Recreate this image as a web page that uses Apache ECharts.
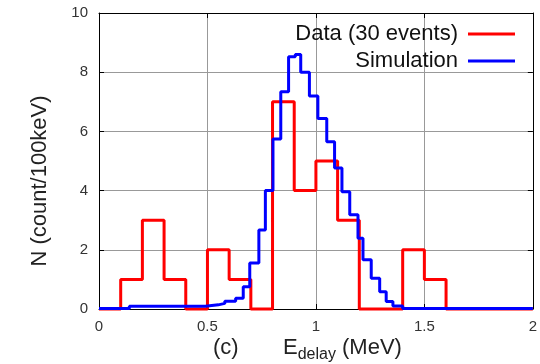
<!DOCTYPE html>
<html><head><meta charset="utf-8">
<script src="https://cdn.jsdelivr.net/npm/echarts@6/dist/echarts.min.js"></script>
<style>html,body{margin:0;padding:0;background:#fff}#c{width:540px;height:364px}</style>
</head><body><div id="c"></div>
<script>
// Data histogram (bin width 0.1 MeV): bin edges and counts
const dataEdges = [0.0,0.1,0.2,0.3,0.4,0.5,0.6,0.7,0.8,0.9,1.0,1.1,1.2,1.3,1.4,1.5,1.6,1.7,1.8,1.9,2.0];
const dataCounts = [0,1,3,1,0,2,1,0,7,4,5,3,0,0,2,1,0,0,0,0];
// Simulation histogram: bin edges and values
const simEdges = [0,0.14,0.49,0.55,0.58,0.63,0.665,0.695,0.737,0.767,0.802,0.838,0.874,0.905,0.93,0.97,1.009,1.05,1.086,1.12,1.156,1.194,1.217,1.255,1.294,1.324,1.355,1.40,2.0];
const simValues = [0.02,0.09,0.14,0.19,0.26,0.36,0.75,1.55,2.67,4.0,5.74,7.34,8.52,8.6,8.0,7.2,6.44,5.65,4.76,3.96,3.18,2.39,1.66,1.04,0.58,0.25,0.1,0.02];
// Axis ticks
const xTicks = [0, 0.5, 1, 1.5, 2];
const yTicks = [0, 2, 4, 6, 8, 10];
const seriesNames = ['Data (30 events)', 'Simulation'];

function stepPoints(edges, vals) {
  const pts = vals.map((v, i) => [edges[i], v]);
  pts.push([edges[edges.length - 1], vals[vals.length - 1]]);
  return pts;
}
const FONT = 'Liberation Sans, Arial, sans-serif';
const chart = echarts.init(document.getElementById('c'), null, {renderer: 'canvas'});
const xBase = {
  type: 'value', min: xTicks[0], max: xTicks[xTicks.length - 1], interval: 0.5,
  axisLine: {show: true, onZero: false, lineStyle: {color: '#000', width: 1}},
  axisTick: {show: true, inside: true, length: 5, lineStyle: {color: '#000'}}
};
const yBase = {
  type: 'value', min: yTicks[0], max: yTicks[yTicks.length - 1], interval: 2,
  axisLine: {show: true, onZero: false, lineStyle: {color: '#000', width: 1}},
  axisTick: {show: true, inside: true, length: 5, lineStyle: {color: '#000'}}
};
chart.setOption({
  animation: false,
  backgroundColor: '#fff',
  grid: {left: 99, right: 4, top: 13, bottom: 55},
  xAxis: [
    Object.assign({}, xBase, {
      position: 'bottom',
      axisLabel: {color: '#333', fontSize: 15, fontFamily: FONT, margin: 10},
      splitLine: {show: true, lineStyle: {color: '#999', width: 1}}
    }),
    Object.assign({}, xBase, {position: 'top', axisLabel: {show: false}, splitLine: {show: false}})
  ],
  yAxis: [
    Object.assign({}, yBase, {
      position: 'left',
      axisLabel: {color: '#333', fontSize: 15, fontFamily: FONT, margin: 11},
      splitLine: {show: true, lineStyle: {color: '#999', width: 1}}
    }),
    Object.assign({}, yBase, {position: 'right', axisLabel: {show: false}, splitLine: {show: false}})
  ],
  legend: {
    data: seriesNames,
    orient: 'vertical', align: 'right', right: 25, top: 23,
    icon: 'rect', itemWidth: 47, itemHeight: 3, itemGap: 5,
    padding: 0,
    textStyle: {fontSize: 22, color: '#111', fontFamily: FONT, padding: [0, 5, 0, 0]}
  },
  series: [
    {
      name: seriesNames[0], type: 'line', step: 'end', symbol: 'none', clip: false,
      data: stepPoints(dataEdges, dataCounts),
      color: '#ff0000', lineStyle: {color: '#ff0000', width: 3}, z: 2
    },
    {
      name: seriesNames[1], type: 'line', step: 'end', symbol: 'none', clip: false,
      data: stepPoints(simEdges, simValues),
      color: '#0000ff', lineStyle: {color: '#0000ff', width: 3}, z: 3
    }
  ],
  graphic: [
    {
      type: 'text', x: 40, y: 181, rotation: Math.PI / 2,
      style: {text: 'N (count/100keV)', fontSize: 22, fontFamily: FONT, fill: '#222', align: 'center', verticalAlign: 'middle'}
    },
    {
      type: 'text', x: 213, y: 348,
      style: {text: '(c)', fontSize: 22, fontFamily: FONT, fill: '#222', align: 'left', verticalAlign: 'middle'}
    },
    {
      type: 'text', x: 283, y: 337,
      style: {
        text: '{a|E}{s|delay}{a| (MeV)}', align: 'left', verticalAlign: 'top',
        rich: {
          a: {fontSize: 22, fontFamily: FONT, fill: '#222', lineHeight: 24, verticalAlign: 'top'},
          s: {fontSize: 16, fontFamily: FONT, fill: '#222', lineHeight: 18, padding: [10, 0, 0, 0], verticalAlign: 'top'}
        }
      }
    }
  ]
});
</script></body></html>
